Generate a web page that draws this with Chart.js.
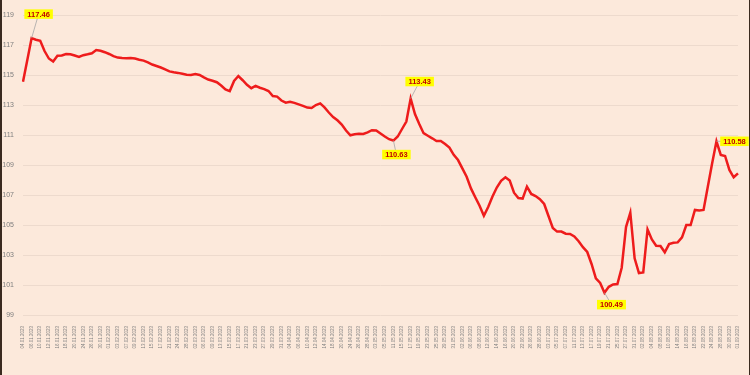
<!DOCTYPE html>
<html>
<head>
<meta charset="utf-8">
<script src="https://cdn.jsdelivr.net/npm/chart.js@4/dist/chart.umd.min.js"></script>
<style>
  html, body { margin: 0; padding: 0; background: #fce9db; }
  #wrap { width: 750px; height: 375px; }
</style>
</head>
<body>
<div id="wrap"><canvas id="myChart" width="750" height="375"></canvas></div>
<script>
// trading days (dd.mm.yyyy)
const dates = [
  '04.01.2023','05.01.2023','06.01.2023','09.01.2023','10.01.2023','11.01.2023','12.01.2023','13.01.2023','16.01.2023','17.01.2023',
  '18.01.2023','19.01.2023','20.01.2023','23.01.2023','24.01.2023','25.01.2023','26.01.2023','27.01.2023','30.01.2023','31.01.2023',
  '01.02.2023','02.02.2023','03.02.2023','06.02.2023','07.02.2023','08.02.2023','09.02.2023','10.02.2023','13.02.2023','14.02.2023',
  '15.02.2023','16.02.2023','17.02.2023','20.02.2023','21.02.2023','22.02.2023','24.02.2023','27.02.2023','28.02.2023',
  '01.03.2023','02.03.2023','03.03.2023','06.03.2023','07.03.2023','09.03.2023','10.03.2023','13.03.2023','14.03.2023','15.03.2023',
  '16.03.2023','17.03.2023','20.03.2023','21.03.2023','22.03.2023','23.03.2023','24.03.2023','27.03.2023','28.03.2023','29.03.2023',
  '30.03.2023','31.03.2023',
  '03.04.2023','04.04.2023','05.04.2023','06.04.2023','07.04.2023','10.04.2023','11.04.2023','12.04.2023','13.04.2023','14.04.2023',
  '17.04.2023','18.04.2023','19.04.2023','20.04.2023','21.04.2023','24.04.2023','25.04.2023','26.04.2023','27.04.2023','28.04.2023',
  '02.05.2023','03.05.2023','04.05.2023','05.05.2023','10.05.2023','11.05.2023','12.05.2023','15.05.2023','16.05.2023','17.05.2023',
  '18.05.2023','19.05.2023','22.05.2023','23.05.2023','24.05.2023','25.05.2023','26.05.2023','29.05.2023','30.05.2023','31.05.2023',
  '01.06.2023','02.06.2023','05.06.2023','06.06.2023','07.06.2023','08.06.2023','09.06.2023','12.06.2023','13.06.2023','14.06.2023',
  '15.06.2023','16.06.2023','19.06.2023','20.06.2023','21.06.2023','22.06.2023','23.06.2023','26.06.2023','27.06.2023','28.06.2023',
  '29.06.2023',
  '03.07.2023','04.07.2023','05.07.2023','06.07.2023','07.07.2023','10.07.2023','11.07.2023','12.07.2023','13.07.2023','14.07.2023',
  '17.07.2023','18.07.2023','19.07.2023','20.07.2023','21.07.2023','24.07.2023','25.07.2023','26.07.2023','27.07.2023','28.07.2023',
  '31.07.2023',
  '01.08.2023','02.08.2023','03.08.2023','04.08.2023','07.08.2023','08.08.2023','09.08.2023','10.08.2023','11.08.2023','14.08.2023',
  '15.08.2023','16.08.2023','17.08.2023','18.08.2023','21.08.2023','22.08.2023','23.08.2023','24.08.2023','25.08.2023','28.08.2023',
  '29.08.2023','30.08.2023','31.08.2023','01.09.2023'
];

const values = [
  114.55, 116.00, 117.46, 117.35, 117.28, 116.60, 116.10, 115.90, 116.28, 116.30,
  116.40, 116.38, 116.30, 116.20, 116.32, 116.38, 116.45, 116.66, 116.62, 116.52,
  116.40, 116.26, 116.16, 116.13, 116.12, 116.13, 116.10, 116.02, 115.96, 115.84,
  115.70, 115.60, 115.50, 115.38, 115.24, 115.18, 115.14, 115.08, 115.02, 115.00,
  115.06, 115.00, 114.84, 114.70, 114.62, 114.52, 114.30, 114.04, 113.93, 114.60,
  114.93, 114.65, 114.35, 114.12, 114.27, 114.15, 114.06, 113.93, 113.60, 113.56,
  113.30, 113.16, 113.22, 113.14, 113.04, 112.94, 112.83, 112.80, 113.00, 113.11,
  112.84, 112.50, 112.20, 111.98, 111.70, 111.30, 110.98, 111.05, 111.08, 111.07,
  111.18, 111.32, 111.30, 111.10, 110.90, 110.72, 110.63, 110.90, 111.40, 111.90,
  113.43, 112.40, 111.73, 111.12, 110.95, 110.78, 110.60, 110.60, 110.40, 110.16,
  109.68, 109.33, 108.78, 108.22, 107.44, 106.85, 106.28, 105.62, 106.20, 106.90,
  107.50, 107.95, 108.18, 107.96, 107.15, 106.80, 106.76, 107.56, 107.07, 106.93,
  106.72, 106.40, 105.60, 104.80, 104.56, 104.56, 104.42, 104.40, 104.24, 103.92,
  103.52, 103.20, 102.40, 101.44, 101.14, 100.49, 100.88, 101.04, 101.06, 102.15,
  104.86, 105.82, 102.78, 101.80, 101.84, 104.71, 104.04, 103.62, 103.60, 103.18,
  103.73, 103.82, 103.84, 104.18, 105.00, 105.00, 106.00, 105.96, 106.00, 107.56,
  109.11, 110.58, 109.67, 109.60, 108.67, 108.18, 108.44
];

const yTicks = [99, 101, 103, 105, 107, 109, 111, 113, 115, 117, 119];

// highlighted points (index into values)
const calloutIdx = [2, 86, 90, 135, 161];

// where each callout box sits relative to its point
const calloutOffsets = {
  2:   { dx: 7,  dy: -24 },
  86:  { dx: 3,  dy: 14 },
  90:  { dx: 9,  dy: -17 },
  135: { dx: 7,  dy: 12 },
  161: { dx: 18, dy: 0 }
};

const bgPlugin = {
  id: 'bg',
  beforeDraw(chart) {
    const ctx = chart.ctx;
    ctx.save();
    ctx.fillStyle = '#fce9db';
    ctx.fillRect(0, 0, chart.width, chart.height);
    ctx.restore();
  },
  afterDraw(chart) {
    const ctx = chart.ctx;
    ctx.save();
    ctx.fillStyle = '#3a2a1f';
    ctx.fillRect(0, 0, 2, chart.height);
    ctx.fillRect(chart.width - 1, 0, 1, chart.height);
    ctx.restore();
  }
};

const calloutPlugin = {
  id: 'callouts',
  afterDatasetsDraw(chart) {
    const ctx = chart.ctx;
    const meta = chart.getDatasetMeta(0);
    ctx.save();
    ctx.font = "bold 7.5px 'Liberation Sans', Arial, sans-serif";
    ctx.textAlign = 'center';
    ctx.textBaseline = 'middle';
    calloutIdx.forEach(i => {
      const pt = meta.data[i];
      const off = calloutOffsets[i];
      const cx = pt.x + off.dx;
      const cy = pt.y + off.dy;
      const txt = values[i].toFixed(2);
      const w = ctx.measureText(txt).width + 6;
      const h = 9.5;
      // leader line
      ctx.strokeStyle = '#a6a6a6';
      ctx.lineWidth = 0.8;
      ctx.beginPath();
      ctx.moveTo(pt.x, pt.y);
      ctx.lineTo(cx, cy);
      ctx.stroke();
      // box
      ctx.fillStyle = '#ffff00';
      ctx.fillRect(cx - w / 2, cy - h / 2, w, h);
      ctx.fillStyle = '#c00000';
      ctx.fillText(txt, cx, cy + 0.5);
    });
    ctx.restore();
  }
};

document.addEventListener('DOMContentLoaded', () => {
  Chart.defaults.font.family = "'Liberation Sans', Arial, sans-serif";
  const ctx = document.getElementById('myChart').getContext('2d');

  new Chart(ctx, {
    type: 'line',
    data: {
      labels: dates,
      datasets: [{
        data: values,
        borderColor: '#ee1c1c',
        borderWidth: 2.5,
        pointRadius: 0,
        tension: 0,
        fill: false
      }]
    },
    options: {
      responsive: false,
      animation: false,
      devicePixelRatio: 1,
      layout: { padding: { left: 0, right: 12, top: 0, bottom: 0 } },
      plugins: {
        legend: { display: false },
        tooltip: { enabled: false }
      },
      scales: {
        x: {
          offset: false,
          grid: { display: false },
          border: { display: false },
          afterFit(scale) {
            scale.height = 60;
          },
          ticks: {
            autoSkip: false,
            minRotation: 90,
            maxRotation: 90,
            padding: 3,
            color: '#7f7f7f',
            font: { size: 4.5 },
            callback: (v, i) => (i % 2 === 0 ? dates[i] : null)
          }
        },
        y: {
          min: 99,
          max: 120,
          afterFit(scale) {
            scale.width = 23;
            // no extra room above/below the plot for the tick labels
            scale.paddingTop = 0;
            scale.paddingBottom = 0;
          },
          afterBuildTicks(scale) { scale.ticks = yTicks.map(v => ({ value: v })); },
          grid: { color: '#eddacd', lineWidth: 1, drawTicks: false },
          border: { display: false },
          ticks: {
            padding: 9,
            color: '#7f7f7f',
            font: { size: 7 }
          }
        }
      }
    },
    plugins: [bgPlugin, calloutPlugin]
  });
});
</script>
</body>
</html>
